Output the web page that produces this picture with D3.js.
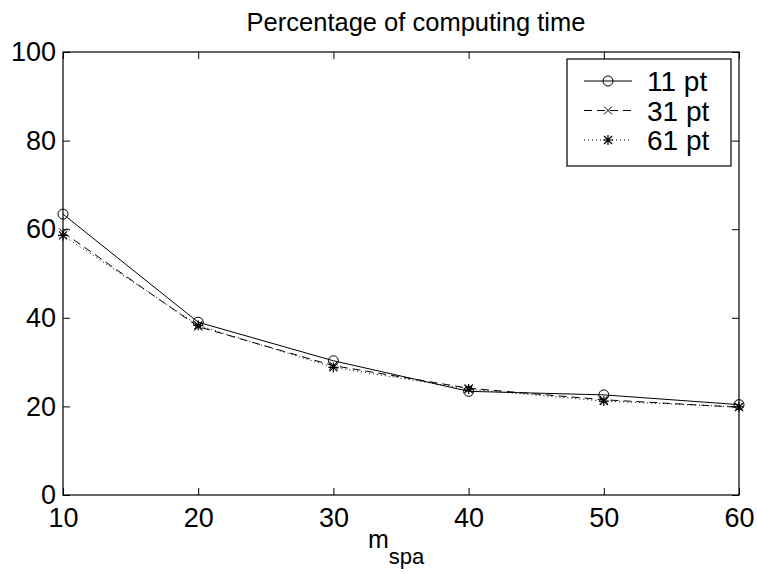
<!DOCTYPE html>
<html>
<head>
<meta charset="utf-8">
<script src="https://cdn.jsdelivr.net/npm/d3@7"></script>
<style>
  body { margin: 0; background: #fff; }
  text { font-family: "Liberation Sans", Arial, sans-serif; fill: #000; }
</style>
</head>
<body>
<svg id="chart" width="757" height="574"></svg>
<script>
// data
var xValues = [10, 20, 30, 40, 50, 60];
var pt11 = [63.4, 39.0, 30.3, 23.4, 22.6, 20.4];
var pt31 = [59.3, 38.0, 29.2, 24.1, 21.5, 19.8];
var pt61 = [58.6, 38.3, 28.8, 23.9, 21.2, 19.9];
var xTicks = [10, 20, 30, 40, 50, 60];
var yTicks = [0, 20, 40, 60, 80, 100];
var seriesNames = ['11 pt', '31 pt', '61 pt'];

// plot box (careful : "top" is taken by window)
var boxLeft = 63, boxRight = 739, boxTop = 52, boxBottom = 495;
var tickLen = 7;

var svg = d3.select('#chart');

var x = d3.scaleLinear().domain([10, 60]).range([boxLeft, boxRight]);
var y = d3.scaleLinear().domain([0, 100]).range([boxBottom, boxTop]);

// axes box : ticks point inward on every side
svg.append('g').attr('transform', 'translate(0,' + boxBottom + ')')
  .call(d3.axisBottom(x).tickValues(xTicks).tickSizeInner(-tickLen).tickSizeOuter(0).tickPadding(13))
  .call(function (g) { g.selectAll('text').attr('font-size', 27).attr('font-family', null); });
svg.append('g').attr('transform', 'translate(0,' + boxTop + ')')
  .call(d3.axisTop(x).tickValues(xTicks).tickSizeInner(-tickLen).tickSizeOuter(0).tickFormat(''));
svg.append('g').attr('transform', 'translate(' + boxLeft + ',0)')
  .call(d3.axisLeft(y).tickValues(yTicks).tickSizeInner(-tickLen).tickSizeOuter(0).tickPadding(7))
  .call(function (g) { g.selectAll('text').attr('font-size', 27).attr('font-family', null); });
svg.append('g').attr('transform', 'translate(' + boxRight + ',0)')
  .call(d3.axisRight(y).tickValues(yTicks).tickSizeInner(-tickLen).tickSizeOuter(0).tickFormat(''));
svg.selectAll('.domain').remove();
svg.selectAll('.tick line').attr('stroke', '#000');

svg.append('rect').attr('x', boxLeft).attr('y', boxTop)
  .attr('width', boxRight - boxLeft).attr('height', boxBottom - boxTop)
  .attr('fill', 'none').attr('stroke', '#000').attr('stroke-width', 1.2);

// markers
function marker(sel, kind) {
  if (kind === 'o') {
    sel.append('circle').attr('r', 5).attr('fill', 'none').attr('stroke', '#000').attr('stroke-width', 1);
  } else if (kind === 'x') {
    sel.append('path').attr('d', 'M-4,-4L4,4M-4,4L4,-4').attr('stroke', '#000').attr('stroke-width', 1);
  } else {
    sel.append('path').attr('d', 'M-5,0L5,0M0,-5L0,5M-4,-4L4,4M-4,4L4,-4').attr('stroke', '#000').attr('stroke-width', 1.2);
  }
}

var series = [
  { name: seriesNames[0], values: pt11, dash: null, mark: 'o' },
  { name: seriesNames[1], values: pt31, dash: '8,5', mark: 'x' },
  { name: seriesNames[2], values: pt61, dash: '1,3', mark: '*' }
];

var line = d3.line().x(function (d, i) { return x(xValues[i]); }).y(function (d) { return y(d); });

series.forEach(function (s) {
  svg.append('path').datum(s.values).attr('d', line)
    .attr('fill', 'none').attr('stroke', '#000').attr('stroke-width', 1)
    .attr('stroke-dasharray', s.dash);
  s.values.forEach(function (v, i) {
    var g = svg.append('g').attr('transform', 'translate(' + x(xValues[i]) + ',' + y(v) + ')');
    marker(g, s.mark);
  });
});

// legend
var legend = svg.append('g').attr('transform', 'translate(567,59)');
legend.append('rect').attr('width', 164).attr('height', 107)
  .attr('fill', '#fff').attr('stroke', '#000').attr('stroke-width', 1.2);
series.forEach(function (s, i) {
  var ly = 22 + i * 29.5;
  legend.append('line').attr('x1', 17).attr('x2', 65).attr('y1', ly).attr('y2', ly)
    .attr('stroke', '#000').attr('stroke-width', 1).attr('stroke-dasharray', s.dash);
  marker(legend.append('g').attr('transform', 'translate(41,' + ly + ')'), s.mark);
  legend.append('text').attr('x', 80).attr('y', ly).attr('dy', '0.36em')
    .attr('font-size', 28).text(s.name);
});

// title and x label
svg.append('text').attr('x', 416).attr('y', 31)
  .attr('text-anchor', 'middle').attr('font-size', 25.5).text('Percentage of computing time');
var xl = svg.append('text').attr('x', 368).attr('y', 548).attr('font-size', 25);
xl.append('tspan').text('m');
xl.append('tspan').attr('dy', 16).attr('font-size', 22).text('spa');
</script>
</body>
</html>
